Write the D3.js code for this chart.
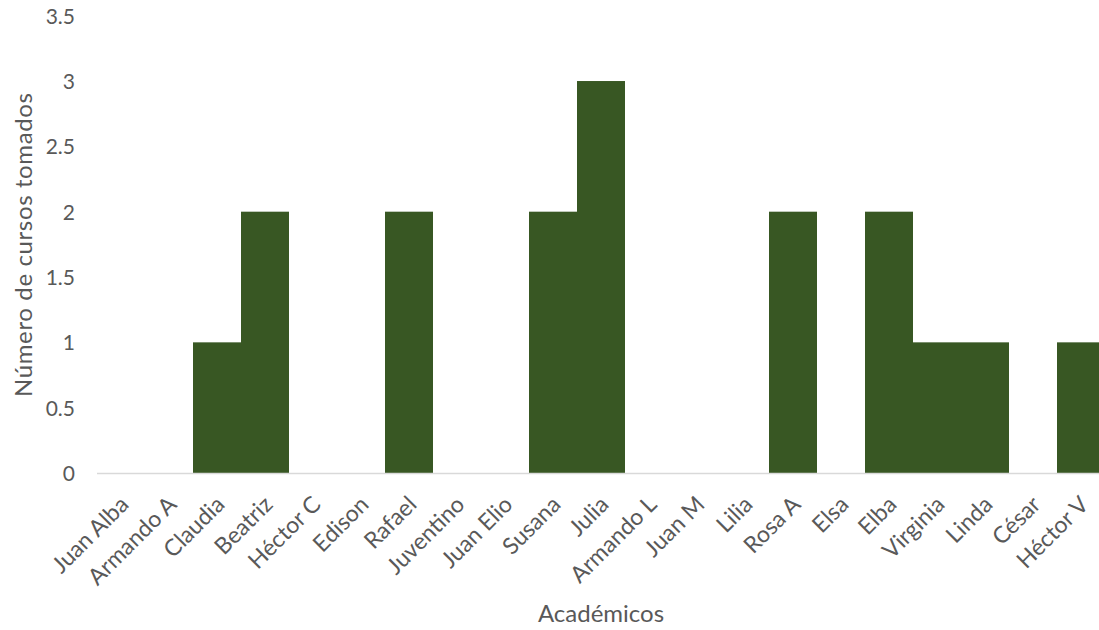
<!DOCTYPE html>
<html><head><meta charset="utf-8">
<script src="https://cdn.jsdelivr.net/npm/d3@7"></script>
<style>body{margin:0;background:#fff}svg{display:block}text{font-family:Lato,"Open Sans",sans-serif;fill:#595959}</style>
</head><body><svg id="c" width="1099" height="630"></svg>
<script>
const categories = ["Juan Alba","Armando A","Claudia","Beatriz","Héctor C","Edison","Rafael","Juventino","Juan Elio","Susana","Julia","Armando L","Juan M","Lilia","Rosa A","Elsa","Elba","Virginia","Linda","César","Héctor V"];
const values = [0,0,1,2,0,0,2,0,0,2,3,0,0,0,2,0,2,1,1,0,1];
const yTicks = [0,0.5,1,1.5,2,2.5,3,3.5];
const yTickLabels = ["0","0.5","1","1.5","2","2.5","3","3.5"];
const xTitle = "Académicos", yTitle = "Número de cursos tomados";

const svg = d3.select("#c");
const m = {l:97, r:1105, t:15.7, b:473};
const x = d3.scaleBand().domain(categories).range([m.l, m.r]).padding(0);
const y = d3.scaleLinear().domain([0,3.5]).range([m.b, m.t]);

svg.append("g").selectAll("rect").data(categories).join("rect")
  .attr("x", d => x(d)).attr("width", x.bandwidth())
  .attr("y", (d,i) => y(values[i])).attr("height", (d,i) => y(0) - y(values[i]))
  .attr("fill", "#385723");

svg.append("line").attr("x1", m.l).attr("x2", m.r).attr("y1", y(0)+0.5).attr("y2", y(0)+0.5)
  .attr("stroke", "#d9d9d9").attr("stroke-width", 1.5);

const ya = svg.append("g").attr("transform", `translate(${75},0)`)
  .call(d3.axisLeft(y).tickValues(yTicks).tickFormat((d,i) => yTickLabels[i]).tickSize(0).tickPadding(0));
ya.select(".domain").remove();
ya.selectAll("text").style("font-size","21px").style("font-family","Lato,sans-serif").attr("fill","#595959").attr("dy","0.36em");

const xa = svg.append("g").attr("transform", `translate(0,${y(0)})`)
  .call(d3.axisBottom(x).tickSize(0).tickPadding(0));
xa.select(".domain").remove();
xa.selectAll("text").style("font-size","23px").style("font-family","Lato,sans-serif").attr("fill","#595959")
  .attr("text-anchor","end").attr("dy","0")
  .attr("transform", "translate(9,33) rotate(-45)");

svg.append("text").attr("x", (m.l+m.r)/2).attr("y", 622).attr("text-anchor","middle")
  .style("font-size","24px").text(xTitle);
svg.append("text").attr("transform", `translate(32,${245}) rotate(-90)`).attr("text-anchor","middle")
  .style("font-size","24px").attr("textLength", 304).attr("lengthAdjust","spacing").text(yTitle);
</script></body></html>
